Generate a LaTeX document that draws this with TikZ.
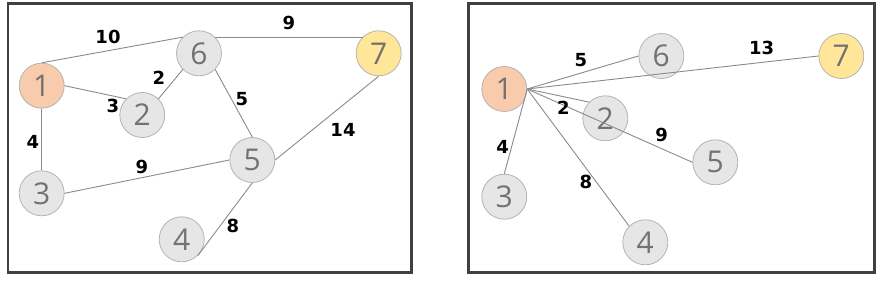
\documentclass[tikz,border=0pt]{standalone}
\usepackage{fontspec}
\setmainfont{Open Sans}
\newfontfamily\weightfont{DejaVu Sans}
\usepackage{tikz}
\usetikzlibrary{positioning}
\definecolor{peach}{HTML}{F8CBAD}
\definecolor{sand}{HTML}{FFE699}
\definecolor{pale}{HTML}{E6E6E6}
\definecolor{rim}{HTML}{B4B4B4}
\definecolor{digit}{HTML}{767171}
\definecolor{edgegray}{HTML}{8A8A8A}
\definecolor{frame}{HTML}{404040}
\tikzset{
  vertex/.style={circle, draw=rim, line width=0.8pt, fill=pale, minimum size=45pt,
    inner sep=0pt, text=digit, font=\fontsize{30}{31}\selectfont},
  start/.style={vertex, fill=peach},
  goal/.style={vertex, fill=sand},
  link/.style={draw=edgegray, line width=0.9pt},
  weight/.style={font=\weightfont\fontsize{18}{19}\selectfont\bfseries, text=black, inner sep=0pt},
  panel/.style={draw=frame, line width=2.7pt}
}
\begin{document}
\begin{tikzpicture}[x=1pt, y=-1pt]
\useasboundingbox (0,0) rectangle (885,281);

% --- Grafo completo ---
\draw[panel] (8,3.7) rectangle (411.7,272.5);
\node[start] (a1) at (41.7,85.7) {1};
\node[vertex] (a2) at (142.3,115) {2};
\node[vertex] (a3) at (41.7,193.3) {3};
\node[vertex] (a4) at (181.7,239.3) {4};
\node[vertex] (a5) at (252.3,160) {5};
\node[vertex] (a6) at (199,53.3) {6};
\node[goal] (a7) at (378.7,53.3) {7};
% archi
\draw[link] (a1.north) -- (a6.135);
\draw[link] (a6.45) -- (a7.135);
\draw[link] (a1.east) -- (a2.135);
\draw[link] (a2.45) -- (a6.225);
\draw[link] (a6.315) -- (a5.north);
\draw[link] (a7.south) -- (a5.east);
\draw[link] (a1.south) -- (a3.north);
\draw[link] (a3.east) -- (a5.west);
\draw[link] (a5.south) -- (a4.315);
% pesi
\node[weight] (wa16) at (108,37) {10};
\node[weight] (wa67) at (289,23) {9};
\node[weight] (wa12) at (113,106) {3};
\node[weight] (wa26) at (159,78) {2};
\node[weight] (wa65) at (242,99) {5};
\node[weight] (wa75) at (343,130) {14};
\node[weight] (wa13) at (33,142) {4};
\node[weight] (wa35) at (142,167) {9};
\node[weight] (wa54) at (233,226) {8};

% --- Cammini minimi da 1 ---
\draw[panel] (468.5,3.7) rectangle (874.7,272.5);
\node[start] (b1) at (504.3,89) {1};
\node[vertex] (b2) at (605.3,118.3) {2};
\node[vertex] (b3) at (504.3,196.7) {3};
\node[vertex] (b4) at (645.3,242.3) {4};
\node[vertex] (b5) at (715.3,162.3) {5};
\node[vertex] (b6) at (661.3,56) {6};
\node[goal] (b7) at (841.3,56) {7};
% archi (tutti da 1)
\draw[link] (b1.east) -- (b6.west);
\draw[link] (b1.east) -- (b7.west);
\draw[link] (b1.east) -- (b2.135);
\draw[link] (b1.east) -- (b5.west);
\draw[link] (b1.east) -- (b3.north);
\draw[link] (b1.east) -- (b4.135);
% pesi
\node[weight] (wb6) at (581,60) {5};
\node[weight] (wb7) at (761.7,48.3) {13};
\node[weight] (wb2) at (563.3,108.3) {2};
\node[weight] (wb5) at (661.7,135) {9};
\node[weight] (wb3) at (502.7,146.7) {4};
\node[weight] (wb4) at (586,181.7) {8};
\end{tikzpicture}
\end{document}
